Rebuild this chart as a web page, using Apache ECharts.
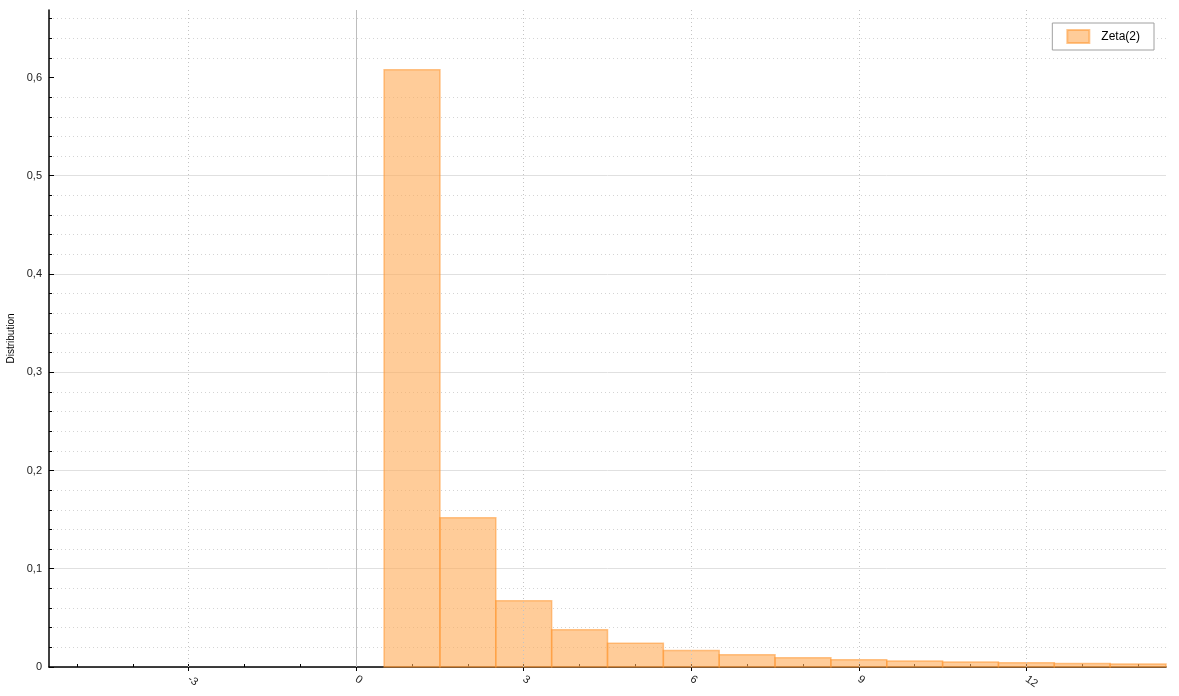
<!DOCTYPE html>
<html>
<head>
<meta charset="utf-8">
<script src="https://cdn.jsdelivr.net/npm/echarts@6/dist/echarts.min.js"></script>
<style>
html, body { margin: 0; padding: 0; background: #fff; }
#main { width: 1179px; height: 696px; }
</style>
</head>
<body>
<div id="main"></div>
<script>
// values
const seriesName = 'Zeta(2)';
const kValues = [1, 2, 3, 4, 5, 6, 7, 8, 9, 10, 11, 12, 13, 14];
const probValues = [0.608, 0.152, 0.0675, 0.038, 0.0243, 0.0169, 0.0124, 0.0095, 0.0075, 0.0061, 0.005, 0.0042, 0.0036, 0.0031];
const xMajorTicks = [-3, 0, 3, 6, 9, 12];
const xMinorTicks = [-5, -4, -3, -2, -1, 0, 1, 2, 3, 4, 5, 6, 7, 8, 9, 10, 11, 12, 13, 14];
const yTicks = [0, 0.1, 0.2, 0.3, 0.4, 0.5, 0.6];
const xMin = -5.5, xMax = 14.5;
const yMax = 0.6687;

const chartDom = document.getElementById('main');
const chart = echarts.init(chartDom);

const barFill = 'rgba(255,170,85,0.6)';
const barEdge = 'rgba(255,150,45,0.55)';
const fontFam = '"Liberation Sans", Arial, sans-serif';

const option = {
  animation: false,
  grid: { left: 49, right: 13, top: 10, bottom: 29, outerBoundsMode: 'none', containLabel: false },
  legend: {
    right: 25,
    top: 23,
    data: [seriesName],
    icon: 'rect',
    itemWidth: 22,
    itemHeight: 13,
    itemGap: 8,
    padding: [6, 14, 6, 14],
    borderColor: '#a0a0a0',
    borderWidth: 1,
    backgroundColor: '#fff',
    textStyle: { fontSize: 12, color: '#000', fontFamily: fontFam, padding: [0, 0, 0, 7] }
  },
  xAxis: [
    {
      type: 'value',
      position: 'bottom',
      min: xMin,
      max: xMax,
      axisLine: { show: true, onZero: false, lineStyle: { color: '#000', width: 1.5 } },
      axisTick: { show: true, inside: false, length: 4, customValues: xMajorTicks, lineStyle: { color: '#000' } },
      axisLabel: {
        customValues: xMajorTicks,
        rotate: -35,
        margin: 11,
        fontSize: 11,
        color: '#222',
        fontFamily: fontFam
      },
      splitLine: { show: false }
    },
    {
      type: 'value',
      position: 'bottom',
      min: xMin,
      max: xMax,
      axisLine: { show: false, onZero: false },
      axisTick: { show: true, inside: true, length: 3, customValues: xMinorTicks, lineStyle: { color: '#000' } },
      axisLabel: { show: false },
      splitLine: { show: false }
    }
  ],
  yAxis: {
    type: 'value',
    min: 0,
    max: yMax,
    interval: 0.1,
    name: 'Distribution',
    nameLocation: 'middle',
    nameGap: 31,
    nameTextStyle: { fontSize: 10, color: '#000', fontFamily: fontFam },
    axisLine: { show: true, onZero: false, lineStyle: { color: '#000', width: 1.5 } },
    axisTick: { show: true, inside: true, length: 5, customValues: yTicks, lineStyle: { color: '#000' } },
    minorTick: { show: true, splitNumber: 5, length: 3, lineStyle: { color: '#000' } },
    axisLabel: {
      customValues: yTicks,
      margin: 7,
      fontSize: 11,
      color: '#222',
      fontFamily: fontFam,
      formatter: v => v === 0 ? '0' : v.toFixed(1).replace('.', ',')
    },
    splitLine: { show: true, showMaxLine: false, lineStyle: { color: '#e0e0e0', width: 1 } },
    minorSplitLine: { show: true, lineStyle: { color: '#d4d4d4', width: 1, type: [1, 3] } }
  },
  series: [
    {
      name: seriesName,
      type: 'custom',
      xAxisIndex: 0,
      yAxisIndex: 0,
      itemStyle: { color: barFill, borderColor: barEdge, borderWidth: 1.5 },
      encode: { x: 0, y: 1 },
      data: kValues.map((k, i) => [k, probValues[i]]),
      renderItem: function (params, api) {
        const k = api.value(0);
        const p = api.value(1);
        const tl = api.coord([k - 0.5, p]);
        const br = api.coord([k + 0.5, 0]);
        return {
          type: 'rect',
          shape: { x: tl[0], y: tl[1], width: br[0] - tl[0], height: br[1] - tl[1] },
          style: { fill: barFill, stroke: barEdge, lineWidth: 1.5 }
        };
      },
      markLine: {
        silent: true,
        symbol: ['none', 'none'],
        label: { show: false },
        animation: false,
        data: xMajorTicks.map(v => ({
          xAxis: v,
          lineStyle: v === 0
            ? { color: '#bdbdbd', width: 1, type: 'solid' }
            : { color: '#c4c4c4', width: 1, type: [1, 3] }
        }))
      }
    }
  ]
};

option && chart.setOption(option);
</script>
</body>
</html>
